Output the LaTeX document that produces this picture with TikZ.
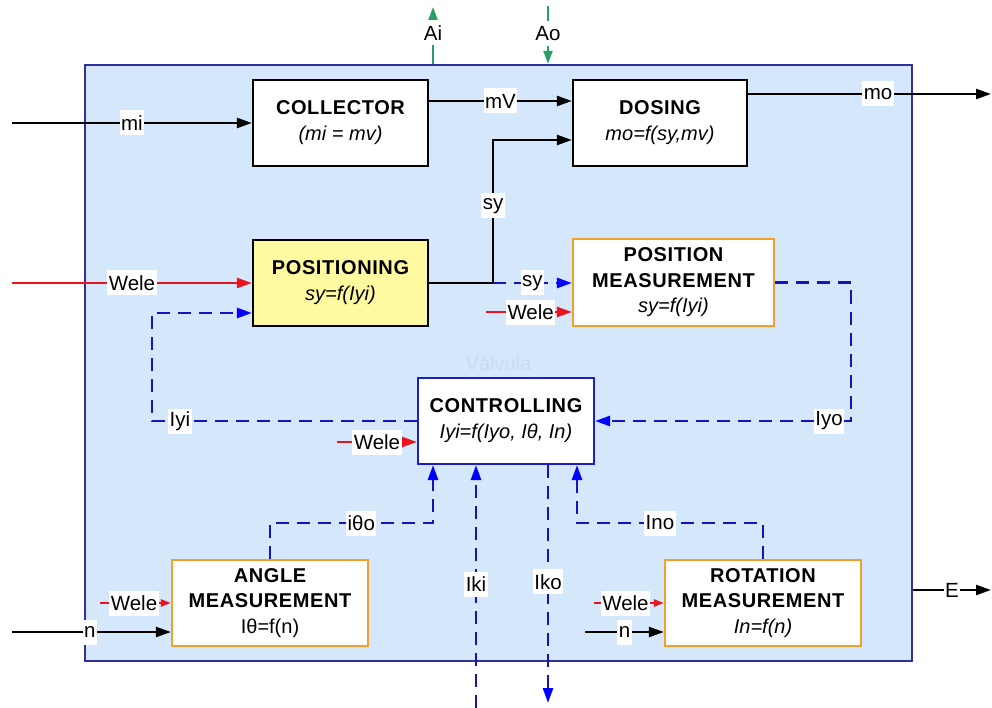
\documentclass[tikz,border=0pt]{standalone}
\usepackage{fontspec}
\setmainfont{Liberation Sans}
\newfontfamily\tfont[LetterSpace=3]{Liberation Sans}
\usetikzlibrary{arrows.meta}
\definecolor{bgblue}{RGB}{213,232,251}
\definecolor{frameblue}{RGB}{48,48,160}
\definecolor{dblue}{RGB}{20,20,190}
\definecolor{hblue}{RGB}{0,0,255}
\definecolor{wred}{RGB}{232,20,30}
\definecolor{oframe}{RGB}{242,160,40}
\definecolor{pyellow}{RGB}{255,250,160}
\definecolor{agreen}{RGB}{40,160,100}
\definecolor{ctlblue}{RGB}{30,30,200}
\definecolor{faint}{RGB}{198,220,244}
\newcommand\ttl[1]{{\tfont\bfseries #1}}
\begin{document}
\begin{tikzpicture}[x=1pt,y=-1pt,
  box/.style={draw=black,line width=2.2pt,fill=white,minimum width=175pt,minimum height=86pt,inner sep=0pt,align=center,font=\fontsize{20}{26}\selectfont},
  obox/.style={box,draw=oframe,minimum width=196pt,font=\fontsize{20}{25.5}\selectfont},
  lbl/.style={fill=white,inner xsep=1.5pt,inner ysep=0pt,minimum height=25pt,font=\fontsize{20.5}{22}\selectfont,text=black},
  blk/.style={draw=black,line width=2.3pt},
  arr/.style={-{Triangle[length=15pt,width=10pt]}},
  rline/.style={draw=wred,line width=2.4pt,-{Triangle[length=15pt,width=10pt,color=wred]}},
  rsmall/.style={draw=wred,line width=2.4pt,-{Triangle[length=10pt,width=7pt,color=wred]}},
  dsh/.style={draw=dblue,line width=2.7pt,dash pattern=on 13pt off 8pt},
  darr/.style={-{Triangle[length=15pt,width=10pt,color=hblue]}},
  gline/.style={draw=agreen,line width=2.2pt,-{Triangle[length=13pt,width=9pt,color=agreen]}}
]
\useasboundingbox (0,0) rectangle (992,708);
% system boundary
\node[draw=frameblue,line width=2.2pt,fill=bgblue,minimum width=827pt,minimum height=596pt,inner sep=0pt,
      text=faint,font=\fontsize{20}{22}\selectfont] (valv) at (498.5,363) {Válvula};
% blocks
\node[box] (col) at (340.5,123) {\ttl{COLLECTOR}\\\textit{(mi = mv)}};
\node[box,minimum width=174pt] (dos) at (660,123) {\ttl{DOSING}\\\textit{mo=f(sy,mv)}};
\node[box,fill=pyellow] (posn) at (340.5,283) {\ttl{POSITIONING}\\\textit{sy=f(Iyi)}};
\node[obox,minimum width=201pt,minimum height=87pt] (pm) at (673.5,282.5) {\ttl{POSITION}\\\ttl{MEASUREMENT}\\\textit{sy=f(Iyi)}};
\node[box,draw=ctlblue,minimum width=176pt] (ctl) at (506,421) {\ttl{CONTROLLING}\\\textit{Iyi=f(Iyo, Iθ, In)}};
\node[obox] (ang) at (270,603) {\ttl{ANGLE}\\\ttl{MEASUREMENT}\\Iθ=f(n)};
\node[obox] (rot) at (763,603) {\ttl{ROTATION}\\\ttl{MEASUREMENT}\\\textit{In=f(n)}};
% free ends
\coordinate (miS) at (12,123);
\coordinate (weleS) at (12,283);
\coordinate (moE) at (991,94);
\coordinate (EE) at (991,590);
\coordinate (AiT) at (433,7);
\coordinate (AoT) at (548,6);
\coordinate (J) at (493,283);
\coordinate (wpm) at (486,312);
\coordinate (wctl) at (337,442);
\coordinate (wang) at (100,603);
\coordinate (nang) at (12,632);
\coordinate (wrot) at (594,603);
\coordinate (nrot) at (585,632);
\coordinate (ikiS) at (476,708);
\coordinate (ikoE) at (548,703);
% top interface arrows
\draw[gline] (433,0 |- valv.north) -- node[lbl,pos=0.55] (LAi) {Ai} (AiT);
\draw[gline] (AoT) -- node[lbl,pos=0.47] (LAo) {Ao} (548,0 |- valv.north);
% mass flow
\draw[blk,arr] (miS) -- node[lbl] (Lmi) {mi} (col.west);
\draw[blk,arr] (col.east |- 0,101) -- node[lbl] (LmV) {mV} (dos.west |- 0,101);
\draw[blk,arr] (dos.east |- 0,94) -- node[lbl,pos=0.535] (Lmo) {mo} (moE);
\draw[blk,arr] (valv.east |- 0,590) -- node[lbl,pos=0.5] (LE) {E} (EE);
% positioning
\draw[rline] (weleS) -- node[lbl] (Lwele1) {Wele} (posn.west);
\draw[blk] (posn.east) -- (J);
\draw[blk,arr] (J) |- node[lbl,pos=0.27] (Lsy1) {sy} (dos.west |- 0,140);
\draw[dsh,darr] (J) -- node[lbl] (Lsy2) {sy} (pm.west |- J);
\draw[rline] (wpm) -- node[lbl,pos=0.52] (Lwele2) {Wele} (pm.west |- wpm);
% feedback loop
\draw[dsh,darr] (pm.east) -- ++(76,0) |- node[lbl,pos=0.543] (Llyo) {Iyo} (ctl.east);
\draw[dsh,darr] (ctl.west) -- node[lbl,pos=0.895] (Llyi) {Iyi} (152,421) |- (posn.west |- 0,313);
\draw[rline] (wctl) -- node[lbl,pos=0.5] (Lwele3) {Wele} (ctl.west |- wctl);
% controlling inputs/outputs
\draw[dsh,darr] (ang.north) |- node[lbl,pos=0.78] (Lito) {iθo} (433,523) -- (433,0 |- ctl.south);
\draw[dsh,darr] (rot.north) |- node[lbl,pos=0.777] (Lino) {Ino} (577,523) -- (577,0 |- ctl.south);
\draw[dsh,darr] (ikiS) -- node[lbl,pos=0.51] (Liki) {Iki} (476,0 |- ctl.south);
\draw[dsh,darr] (548,0 |- ctl.south) -- node[lbl,pos=0.49] (Liko) {Iko} (ikoE);
% angle measurement
\draw[rsmall] (wang) -- node[lbl,pos=0.48] (Lwele4) {Wele} (ang.west);
\draw[blk,arr] (nang) -- node[lbl,pos=0.49] (Ln1) {n} (ang.west |- nang);
% rotation measurement
\draw[rsmall] (wrot) -- node[lbl,pos=0.45] (Lwele5) {Wele} (rot.west);
\draw[blk,arr] (nrot) -- node[lbl,pos=0.5] (Ln2) {n} (rot.west |- nrot);
\end{tikzpicture}
\end{document}
